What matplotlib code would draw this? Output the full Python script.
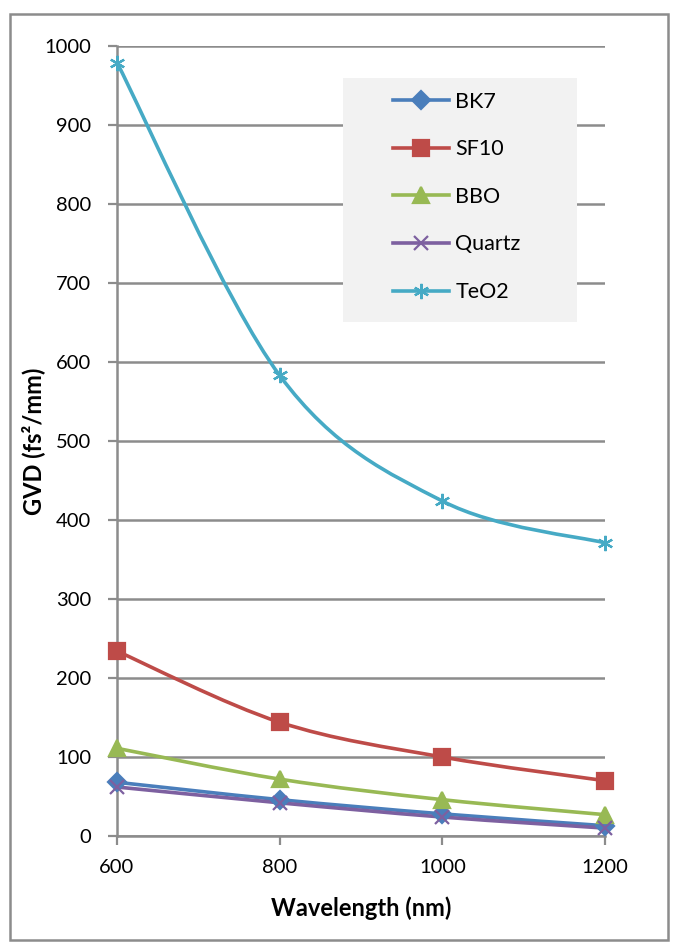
import matplotlib.pyplot as plt
from matplotlib.path import Path
from matplotlib.patches import PathPatch, Rectangle
from matplotlib.lines import Line2D

plt.rcParams['font.family'] = ['Lato', 'DejaVu Sans']

wavelength = [600, 800, 1000, 1200]
bk7 = [68, 46, 28, 13]
sf10 = [234, 144, 100, 70]
bbo = [111, 72, 46, 27]
quartz = [62, 42, 24, 10]
teo2 = [979, 583, 424, 371]

names = ['BK7', 'SF10', 'BBO', 'Quartz', 'TeO2']
series = [bk7, sf10, bbo, quartz, teo2]
colors = ['#4a7ebb', '#be4b48', '#98b954', '#7d60a0', '#46aac5']
markers = ['D', 's', '^', 'x', (6, 2, 0)]
msizes = [9, 11.5, 11.5, 10, 11]


def smooth_path(xs, ys):
    # excel style smoothed line: cubic bezier through the points
    verts = [(xs[0], ys[0])]
    codes = [Path.MOVETO]
    n = len(xs)
    for i in range(n - 1):
        x0, y0 = xs[max(i - 1, 0)], ys[max(i - 1, 0)]
        x1, y1 = xs[i], ys[i]
        x2, y2 = xs[i + 1], ys[i + 1]
        x3, y3 = xs[min(i + 2, n - 1)], ys[min(i + 2, n - 1)]
        c1 = (x1 + (x2 - x0) / 6, y1 + (y2 - y0) / 6)
        c2 = (x2 - (x3 - x1) / 6, y2 - (y3 - y1) / 6)
        verts += [c1, c2, (x2, y2)]
        codes += [Path.CURVE4] * 3
    return Path(verts, codes)


fig = plt.figure(figsize=(6.82, 9.5), dpi=100)
fig.patches.append(Rectangle((10 / 682, 1 - 940 / 950), 658 / 682, 926 / 950,
                             transform=fig.transFigure, fill=False,
                             edgecolor='#8c8c8c', linewidth=1.8))
ax = fig.add_axes([117 / 682, 1 - 836 / 950, 488 / 682, 790 / 950])

handles = []
for name, vals, c, m, ms in zip(names, series, colors, markers, msizes):
    ax.add_patch(PathPatch(smooth_path(wavelength, vals), facecolor='none',
                           edgecolor=c, linewidth=2.6, zorder=3, clip_on=False))
    ax.plot(wavelength, vals, linestyle='none', marker=m, color=c, markersize=ms,
            markeredgewidth=1.6, zorder=4, clip_on=False)
    handles.append(Line2D([], [], color=c, linewidth=2.6, marker=m, markersize=ms,
                          markeredgewidth=1.6))

ax.set_xlim(600, 1200)
ax.set_ylim(0, 1000)
ax.set_xticks(wavelength)
ax.set_yticks(range(0, 1001, 100))
ax.grid(axis='y', color='#8c8c8c', linewidth=1.8)
ax.set_axisbelow(True)
for s in ['top', 'right']:
    ax.spines[s].set_visible(False)
for s in ['left', 'bottom']:
    ax.spines[s].set_color('#8c8c8c')
    ax.spines[s].set_linewidth(1.8)
ax.tick_params(axis='both', colors='#8c8c8c', labelcolor='black', labelsize=14.5,
               length=6.5, width=1.6)
ax.tick_params(axis='y', pad=12)
ax.tick_params(axis='x', pad=10)
ax.set_xlabel('Wavelength (nm)', fontsize=17, fontweight='bold')
ax.set_ylabel('GVD (fs²/mm)', fontsize=17, fontweight='bold')
ax.xaxis.set_label_coords(0.5, -0.091)
ax.xaxis.label.set_va('center')
ax.yaxis.set_label_coords(-0.172, 0.5)
ax.yaxis.label.set_va('center')

# legend background box
ax.add_patch(Rectangle((0.463, 0.651), 0.48, 0.308, transform=ax.transAxes,
                       facecolor='#f2f2f2', edgecolor='none', zorder=2.5))
ax.legend(handles, names, loc='upper left', bbox_to_anchor=(0.5656, 0.942),
          frameon=False, fontsize=15.5, labelspacing=1.28, handlelength=2.6,
          borderpad=0, handletextpad=0.3, borderaxespad=0)

fig.savefig('out.png', dpi=100)
